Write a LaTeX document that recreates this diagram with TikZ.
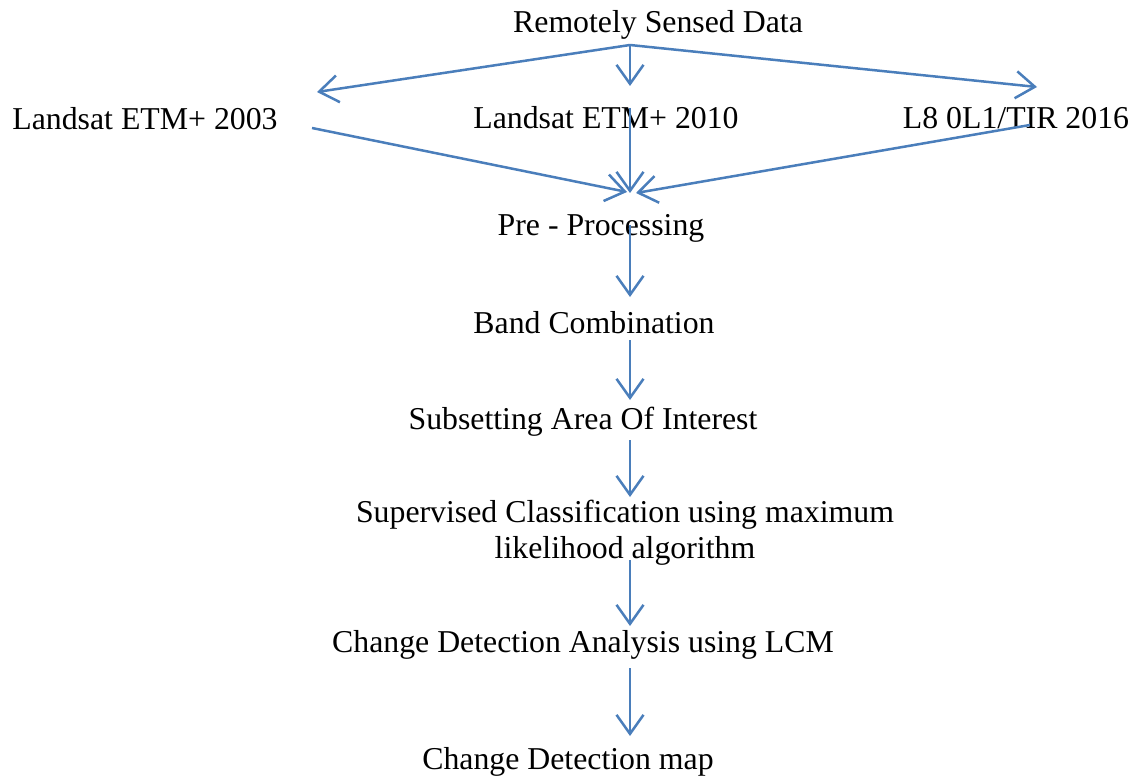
\documentclass[tikz,border=0pt]{standalone}
\usepackage{fontspec}
\setmainfont{Liberation Serif}
\usetikzlibrary{arrows.meta}
\definecolor{flowblue}{RGB}{74,126,187}
\begin{document}
\begin{tikzpicture}[x=1pt,y=-1pt,
  lbl/.style={anchor=base,inner sep=0pt,font=\fontsize{31.8}{35.5}\selectfont,align=center},
  flow/.style={draw=flowblue,line width=2.5pt,-{Straight Barb[length=19pt,width=27pt,line width=2.5pt]}}]
\useasboundingbox[fill=white] (0,0) rectangle (1138,778);
% texts
\node[lbl] (rsd) at (658,33) {Remotely Sensed Data};
\node[lbl] (l03) at (145,130) {Landsat ETM+ 2003};
\node[lbl] (l10) at (606,129) {Landsat ETM+ 2010};
\node[lbl] (l16) at (1016,129) {L8 0L1/TIR 2016};
\node[lbl] (pre) at (601,236) {Pre - Processing};
\node[lbl] (band) at (594,333) {Band Combination};
\node[lbl] (sub) at (583,429) {Subsetting Area Of Interest};
\node[lbl,anchor=north] (sup) at (625,500) {Supervised Classification using maximum\\likelihood algorithm};
\node[lbl] (cda) at (583,652) {Change Detection Analysis using LCM};
\node[lbl] (map) at (568,769) {Change Detection map};
% connector ends
\coordinate (s0) at (630,45);
\coordinate (t0) at (630,86);
\coordinate (tl) at (317,92);
\coordinate (tr) at (1037,87);
\coordinate (s03) at (312,128);
\coordinate (s10) at (630,108);
\coordinate (s16) at (1030,125);
\coordinate (tp) at (630,193);
\coordinate (tpl) at (627,192);
\coordinate (tpr) at (636,193);
\coordinate (s1) at (630,225);
\coordinate (t1) at (630,297);
\coordinate (s2) at (630,340);
\coordinate (t2) at (630,400);
\coordinate (s3) at (630,440);
\coordinate (t3) at (630,497);
\coordinate (s4) at (630,560);
\coordinate (t4) at (630,626);
\coordinate (s5) at (630,668);
\coordinate (t5) at (630,736);
% connectors
\draw[flow] (s0) -- (t0);
\draw[flow] (s0) -- (tl);
\draw[flow] (s0) -- (tr);
\draw[flow] (s03) -- (tpl);
\draw[flow] (s10) -- (tp);
\draw[flow] (s16) -- (tpr);
\draw[flow] (s1) -- (t1);
\draw[flow] (s2) -- (t2);
\draw[flow] (s3) -- (t3);
\draw[flow] (s4) -- (t4);
\draw[flow] (s5) -- (t5);
\end{tikzpicture}
\end{document}
